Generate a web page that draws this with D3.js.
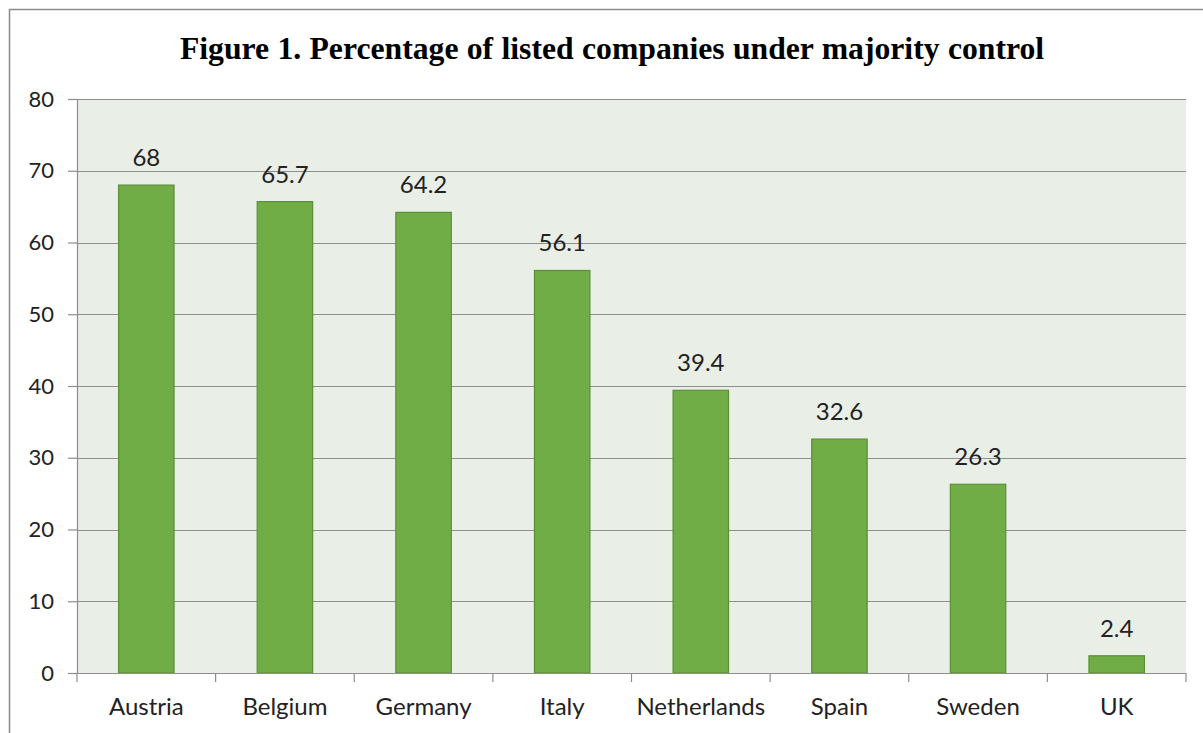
<!DOCTYPE html>
<html>
<head>
<meta charset="utf-8">
<script src="https://cdn.jsdelivr.net/npm/d3@7"></script>
<style>
  body { margin: 0; background: #fff; }
  svg { display: block; }
</style>
</head>
<body>
<div id="chart"></div>
<script>
// chart data
const countries = ["Austria", "Belgium", "Germany", "Italy", "Netherlands", "Spain", "Sweden", "UK"];
const shares = [68, 65.7, 64.2, 56.1, 39.4, 32.6, 26.3, 2.4];
const yTicks = [0, 10, 20, 30, 40, 50, 60, 70, 80];
const titleText = "Figure 1. Percentage of listed companies under majority control";

const width = 1203;
const height = 733;
const margin = {top: 99, right: 17, bottom: 60, left: 77};

const svg = d3.select("#chart")
  .append("svg")
  .attr("width", width)
  .attr("height", height);

// outer chart frame (runs off the right and bottom edge)
svg.append("rect")
  .attr("x", 9.5).attr("y", 9.5)
  .attr("width", 1300).attr("height", 900)
  .attr("fill", "#fff")
  .attr("stroke", "#8a8a8a")
  .attr("stroke-width", 1.5);

const x = d3.scaleBand()
  .domain(countries)
  .range([margin.left, width - margin.right])
  .paddingInner(0.6)
  .paddingOuter(0.3);

const y = d3.scaleLinear()
  .domain([0, 80])
  .range([height - margin.bottom, margin.top]);

const labelFont = "Lato, 'Open Sans', sans-serif";

// plot background
svg.append("rect")
  .attr("x", margin.left)
  .attr("y", y(80))
  .attr("width", width - margin.right - margin.left)
  .attr("height", y(0) - y(80))
  .attr("fill", "#e9eee6");

// gridlines
svg.append("g")
  .selectAll("line")
  .data(yTicks.filter(d => d > 0))
  .join("line")
  .attr("x1", margin.left)
  .attr("x2", width - margin.right)
  .attr("y1", d => Math.round(y(d)) + 0.5)
  .attr("y2", d => Math.round(y(d)) + 0.5)
  .attr("stroke", "#8e8e8e")
  .attr("stroke-width", 1.2);

// y axis
const yAxis = svg.append("g")
  .attr("transform", `translate(${margin.left},0)`)
  .call(d3.axisLeft(y).tickValues(yTicks).tickSize(9).tickPadding(14));
yAxis.select(".domain").attr("stroke", "#8e8e8e").attr("stroke-width", 1.2);
yAxis.selectAll(".tick line").attr("stroke", "#8e8e8e").attr("stroke-width", 1.2);
yAxis.selectAll(".tick text")
  .attr("fill", "#222")
  .style("font-family", labelFont)
  .style("font-size", "22px");

// bars
svg.append("g")
  .selectAll("rect")
  .data(countries)
  .join("rect")
  .attr("x", d => x(d))
  .attr("y", (d, i) => y(shares[i]))
  .attr("width", x.bandwidth())
  .attr("height", (d, i) => y(0) - y(shares[i]))
  .attr("fill", "#70ad47")
  .attr("stroke", "#5a8f38")
  .attr("stroke-width", 1.2);

// x axis
const plotW = width - margin.right - margin.left;
const xAxis = svg.append("g")
  .attr("transform", `translate(0,${y(0)})`);
xAxis.append("line")
  .attr("x1", margin.left).attr("x2", width - margin.right)
  .attr("y1", 0.5).attr("y2", 0.5)
  .attr("stroke", "#8e8e8e").attr("stroke-width", 1.2);
xAxis.selectAll(".xtick")
  .data(d3.range(countries.length + 1))
  .join("line")
  .attr("class", "xtick")
  .attr("x1", i => margin.left + i * plotW / countries.length)
  .attr("x2", i => margin.left + i * plotW / countries.length)
  .attr("y1", 0).attr("y2", 9)
  .attr("stroke", "#8e8e8e").attr("stroke-width", 1.2);
xAxis.selectAll(".xlabel")
  .data(countries)
  .join("text")
  .attr("class", "xlabel")
  .attr("x", d => x(d) + x.bandwidth() / 2)
  .attr("y", 42)
  .attr("text-anchor", "middle")
  .attr("fill", "#222")
  .style("font-family", labelFont)
  .style("font-size", "24px")
  .text(d => d);

// value labels
svg.append("g")
  .selectAll("text")
  .data(countries)
  .join("text")
  .attr("x", d => x(d) + x.bandwidth() / 2)
  .attr("y", (d, i) => y(shares[i]) - 19)
  .attr("text-anchor", "middle")
  .attr("fill", "#222")
  .style("font-family", labelFont)
  .style("font-size", "24px")
  .text((d, i) => shares[i]);

// title
svg.append("text")
  .attr("x", 612)
  .attr("y", 59)
  .attr("text-anchor", "middle")
  .attr("fill", "#000")
  .style("font-family", "'Liberation Serif', 'Times New Roman', serif")
  .style("font-weight", "bold")
  .style("font-size", "31.7px")
  .attr("word-spacing", 0.4)
  .text(titleText);
</script>
</body>
</html>
